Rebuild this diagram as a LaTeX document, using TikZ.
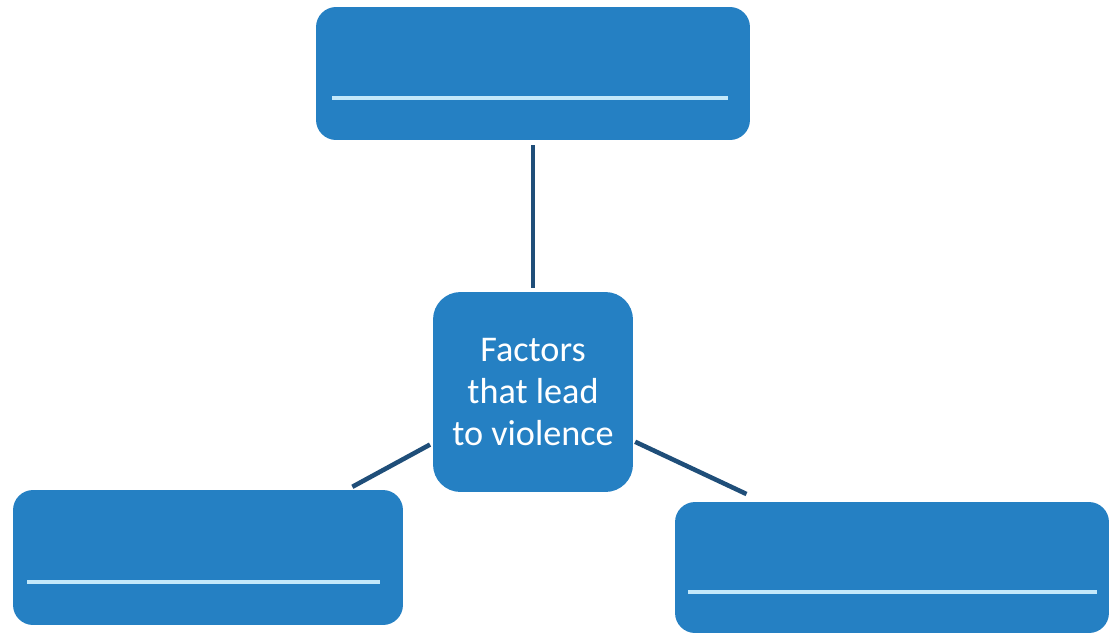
\documentclass[tikz,border=0pt]{standalone}
\usepackage{fontspec}
\setmainfont{Carlito}
\definecolor{boxblue}{RGB}{37,128,195}
\definecolor{linknavy}{RGB}{31,78,121}
\definecolor{blankline}{RGB}{195,232,250}

\begin{document}
\begin{tikzpicture}[x=0.02cm,y=-0.02cm,
    box/.style={fill=boxblue,rounded corners=0.4cm,inner sep=0pt},
    link/.style={draw=linknavy,line width=2.6pt},
    blank/.style={draw=blankline,line width=2pt}]

    \useasboundingbox (0,0) rectangle (1109,633);

    \node[box,minimum width=8.68cm,minimum height=2.66cm] (cause1) at (533,73.5) {};
    \node[box,minimum width=7.8cm,minimum height=2.7cm] (cause2) at (208,557.5) {};
    \node[box,minimum width=8.68cm,minimum height=2.62cm] (cause3) at (892,567.5) {};
    \node[box,rounded corners=0.55cm,minimum width=4cm,minimum height=4cm,
        text=white,align=center,font=\fontsize{20.6}{24}\selectfont] (hub) at (533,392)
        {Factors\\that lead\\to violence};

    % blanks to fill in
    \draw[blank] (332,98) -- (728,98);
    \draw[blank] (27,582) -- (380,582);
    \draw[blank] (688,592) -- (1097,592);

    \draw[link,shorten <=0.1cm,shorten >=0.08cm] (cause1.south) -- (hub.north);
    \draw[link,shorten <=0.06cm,shorten >=0.12cm] (hub.207) -- (cause2.26);
    \draw[link,shorten <=0.04cm,shorten >=0.36cm] (hub.334) -- (cause3.153);

\end{tikzpicture}
\end{document}
